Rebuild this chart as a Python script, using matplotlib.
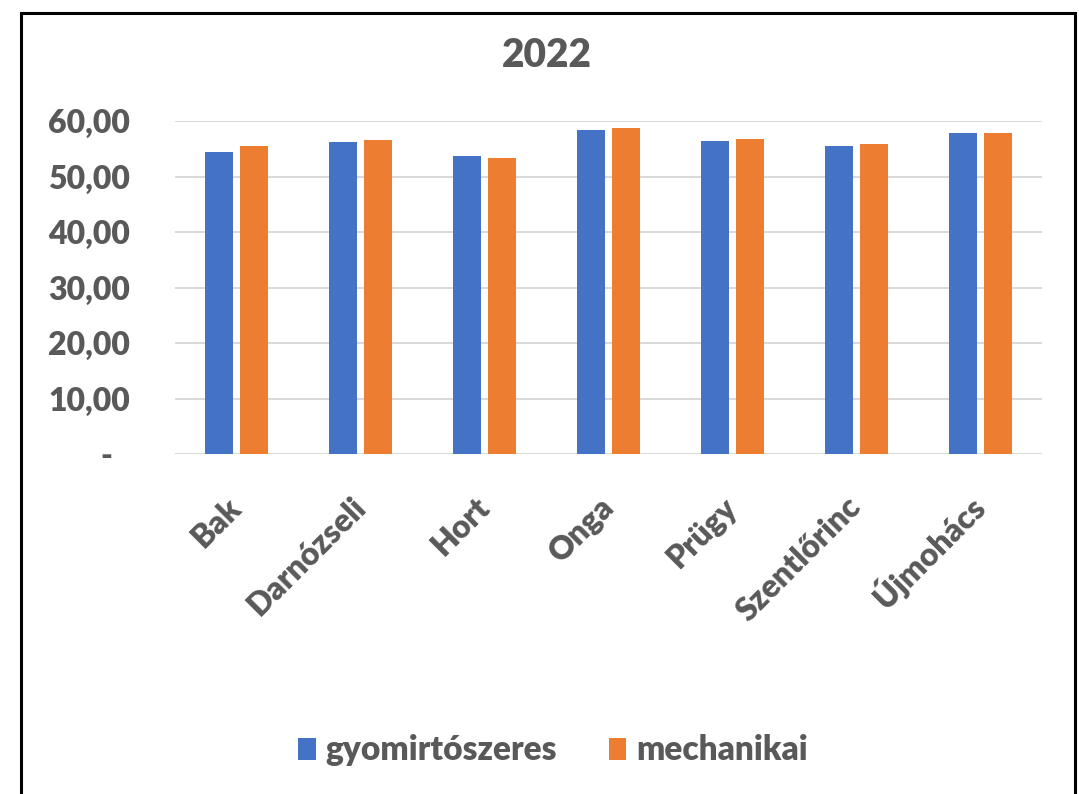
import matplotlib
matplotlib.use("Agg")
import matplotlib.pyplot as plt
import matplotlib.transforms as mtransforms
import numpy as np
from matplotlib.patches import Rectangle

categories = ["Bak", "Darnózseli", "Hort", "Onga", "Prügy", "Szentlőrinc", "Újmohács"]
gyomirtoszeres = [54.4, 56.3, 53.7, 58.4, 56.4, 55.5, 57.8]
mechanikai = [55.5, 56.6, 53.4, 58.8, 56.8, 55.9, 57.8]
series_names = ["gyomirtószeres", "mechanikai"]
yticks = [0, 10, 20, 30, 40, 50, 60]
ytick_labels = ["-", "10,00", "20,00", "30,00", "40,00", "50,00", "60,00"]

BLUE = "#4472C4"
ORANGE = "#ED7D31"
TEXT = "#595959"
GRID = "#D9D9D9"
WEIGHT = "heavy"

plt.rcParams["font.family"] = ["Lato", "DejaVu Sans"]

fig = plt.figure(figsize=(10.79, 7.94), dpi=100)
fig.patches.append(Rectangle((0.0195, -0.01), 0.977, 0.993, transform=fig.transFigure,
                             fill=False, edgecolor="black", linewidth=2.2))

ax = fig.add_axes([0.162, 0.428, 0.8037, 0.4196])
x = np.arange(len(categories))
w = 0.226
off = 0.141
ax.bar(x - off, gyomirtoszeres, width=w, color=BLUE, label=series_names[0], zorder=3)
ax.bar(x + off, mechanikai, width=w, color=ORANGE, label=series_names[1], zorder=3)

ax.set_xlim(-0.5, len(categories) - 0.5)
ax.set_ylim(0, 60)
ax.grid(axis="y", color=GRID, linewidth=1.4, zorder=0)
for s in ax.spines.values():
    s.set_visible(False)

ax.tick_params(axis="y", length=0, pad=32.4)
ax.set_yticks(yticks)
ax.set_yticklabels(ytick_labels, fontsize=23, fontweight=WEIGHT, color=TEXT)

ax.tick_params(axis="x", length=0, pad=39.5)
ax.set_xticks(x)
ax.set_xticklabels(categories, rotation=45, ha="right", va="baseline",
                   rotation_mode="anchor", fontsize=23, fontweight=WEIGHT, color=TEXT)

# nudge category labels slightly right, and the zero dash left (accounting style)
shift_x = mtransforms.ScaledTranslation(0.07, 0, fig.dpi_scale_trans)
for lbl in ax.get_xticklabels():
    lbl.set_transform(lbl.get_transform() + shift_x)
shift_dash = mtransforms.ScaledTranslation(-0.18, 0, fig.dpi_scale_trans)
ax.get_yticklabels()[0].set_transform(ax.get_yticklabels()[0].get_transform() + shift_dash)

fig.text(0.507, 0.93, "2022", ha="center", va="center", fontsize=28,
         fontweight=WEIGHT, color=TEXT)

leg = fig.legend(loc="center", bbox_to_anchor=(0.5125, 0.055), ncol=2, frameon=False,
                 prop={"size": 24, "weight": WEIGHT}, handlelength=0.52,
                 handleheight=0.64, handletextpad=0.3, columnspacing=1.55)
for t in leg.get_texts():
    t.set_color(TEXT)

fig.savefig("out.png", dpi=100)
